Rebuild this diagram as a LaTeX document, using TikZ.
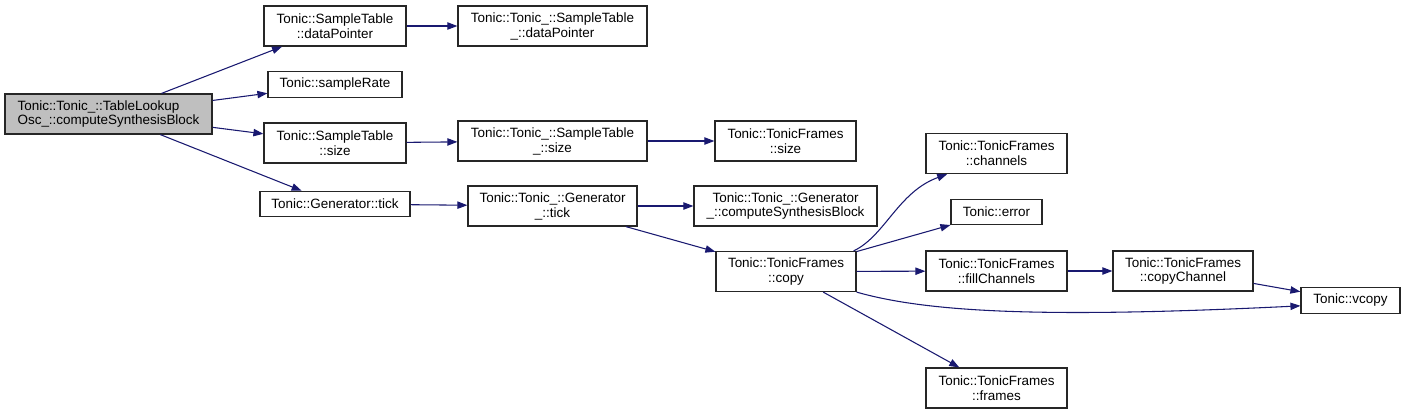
\documentclass[tikz,border=0pt]{standalone}
\usepackage{fontspec}
\setmainfont{Liberation Sans}
\usetikzlibrary{arrows.meta}
\definecolor{edgeblue}{HTML}{191970}
\definecolor{maingray}{HTML}{BFBFBF}
\tikzset{
  box/.style={draw=black!85, line width=0.9pt, fill=white, inner sep=0pt, align=center,
    minimum height=30pt, font=\fontsize{10.1}{11.2}\selectfont},
  onebox/.style={box, minimum height=19pt},
  call/.style={draw=edgeblue, line width=0.8pt, -{Triangle[length=7.5pt,width=5.5pt]}},
}
\begin{document}
\begin{tikzpicture}[x=0.75pt,y=-0.75pt]
\useasboundingbox (0,0) rectangle (1405,415);
\node[box, fill=maingray, align=left, minimum width=155.25pt] (main) at (108.5,114) {Tonic::Tonic\_::TableLookup\\Osc\_::computeSynthesisBlock};
\node[box, minimum width=106.5pt] (sdp) at (335,26) {Tonic::SampleTable\\::dataPointer};
\node[onebox, minimum width=100.5pt] (srate) at (335,84.5) {Tonic::sampleRate};
\node[box, minimum width=106.5pt] (ssize) at (335,143) {Tonic::SampleTable\\::size};
\node[onebox, minimum width=112.5pt] (gtick) at (335,204) {Tonic::Generator::tick};
\node[box, minimum width=141.75pt] (tdp) at (552.5,26) {Tonic::Tonic\_::SampleTable\\\_::dataPointer};
\node[box, minimum width=141.75pt] (tsize) at (552.5,141) {Tonic::Tonic\_::SampleTable\\\_::size};
\node[box, minimum width=105.75pt] (fsize) at (785.5,141) {Tonic::TonicFrames\\::size};
\node[box, minimum width=126.75pt] (gtick2) at (552.5,206) {Tonic::Tonic\_::Generator\\\_::tick};
\node[box, minimum width=137.25pt] (gcsb) at (785.5,206) {Tonic::Tonic\_::Generator\\\_::computeSynthesisBlock};
\node[box, minimum width=105pt] (copy) at (786,271.5) {Tonic::TonicFrames\\::copy};
\node[box, minimum width=105.75pt] (channels) at (996.5,153.5) {Tonic::TonicFrames\\::channels};
\node[onebox, minimum width=68.25pt] (error) at (996.5,212) {Tonic::error};
\node[box, minimum width=105.75pt] (fill) at (996.5,271) {Tonic::TonicFrames\\::fillChannels};
\node[box, minimum width=105pt] (copych) at (1183,271) {Tonic::TonicFrames\\::copyChannel};
\node[onebox, minimum width=74.25pt] (vcopy) at (1350.5,300.5) {Tonic::vcopy};
\node[box, minimum width=105.75pt] (frames) at (996.5,388) {Tonic::TonicFrames\\::frames};

\draw[call] (main) -- (sdp);
\draw[call] (main) -- (srate);
\draw[call] (main) -- (ssize);
\draw[call] (main) -- (gtick);
\draw[call] (sdp) -- (tdp);
\draw[call] (ssize) -- (tsize);
\draw[call] (tsize) -- (fsize);
\draw[call] (gtick) -- (gtick2);
\draw[call] (gtick2) -- (gcsb);
\draw[call] (gtick2) -- (copy);
\draw[call] ([xshift=-2.25pt]copy.north east) .. controls (885,236) and (898,192) .. ([xshift=-37pt]channels.south);
\draw[call] (copy) -- (error);
\draw[call] (copy) -- (fill);
\draw[call] (fill) -- (copych);
\draw[call] (copych) -- (vcopy);
\draw[call] (copy.south east) .. controls (930,313) and (1050,318) .. ([yshift=-4pt]vcopy.west);
\draw[call] (copy) -- (frames);
\end{tikzpicture}
\end{document}
